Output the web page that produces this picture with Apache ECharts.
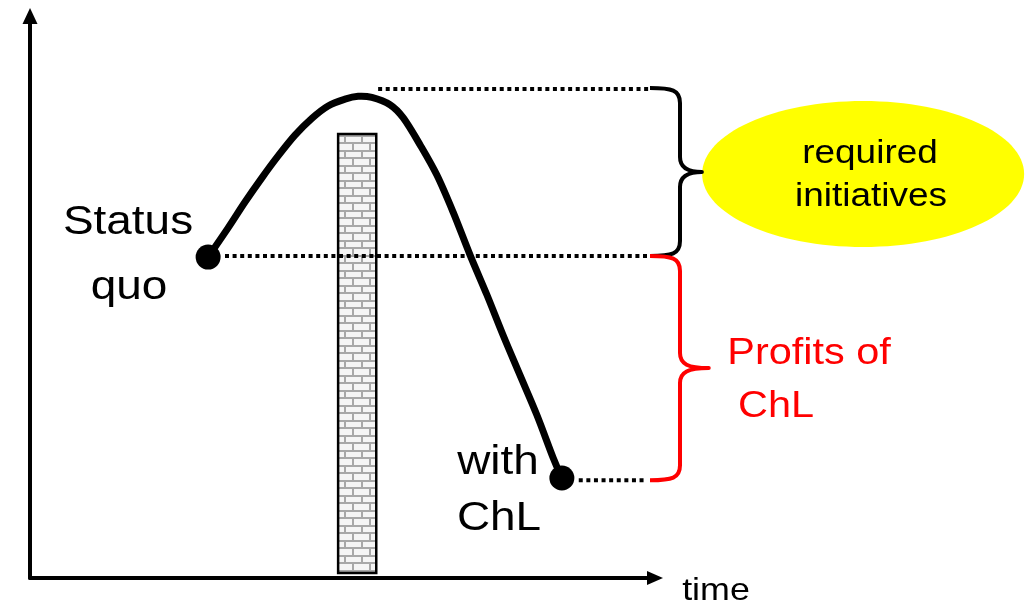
<!DOCTYPE html>
<html>
<head>
<meta charset="utf-8">
<script src="https://cdn.jsdelivr.net/npm/echarts@6/dist/echarts.min.js"></script>
<style>
html,body{margin:0;padding:0;background:#fff;}
#chart{width:1034px;height:605px;}
</style>
</head>
<body>
<div id="chart"></div>
<script>
// ---- data (abstract units: time 0..100, profit 0..100) ----
const curveTime   = [28.5, 31.7, 34.4, 37.1, 39.7, 42.4, 45.1, 47.7, 50.4, 52.5, 54.7, 57.6, 59.7, 62.4, 65.1, 67.7, 70.4, 73.1, 75.7, 78.4, 81.1, 83.7, 85.1];
const curveProfit = [57.1, 62.3, 66.9, 71.2, 75.1, 78.8, 81.8, 84.0, 85.2, 85.7, 85.5, 84.2, 81.9, 77.1, 71.7, 65.1, 57.5, 50.4, 43.2, 36.1, 29.0, 21.4, 17.8];
const pointNames  = ['Status quo', 'with ChL'];
const pointTime   = [28.5, 85.1];
const pointProfit = [57.1, 17.8];
// brick wall: [timeStart, timeEnd, profitBottom, profitTop]
const wallBlock   = [49.3, 55.4, 0.9, 79.0];
// dotted reference levels
const guideStart  = [55.7, 31.2, 87.8];
const guideEnd    = [99.2, 99.2, 98.4];
const guideLevel  = [87.0, 57.3, 17.4];
// braces
const braceTop    = [87.2, 57.3];
const braceBottom = [57.3, 17.4];
const braceNames  = ['required initiatives', 'Profits of ChL'];
// ellipse centre
const bubbleCenter = [133.3, 71.9];

const FONT = '"Liberation Sans", Arial, sans-serif';
const braceColors = ['#000000', '#ff0000'];
const braceStem = [104, 104];
const braceTip  = [107.5, 108.6];

function brickPattern(){
  const c = document.createElement('canvas');
  c.width = 17; c.height = 15;
  const g = c.getContext('2d');
  g.fillStyle = '#f5f5f5'; g.fillRect(0,0,17,15);
  g.fillStyle = '#a8a8a8';
  g.fillRect(0,0,17,2);
  g.fillRect(0,7,17,2);
  g.fillRect(4,0,2,7);
  g.fillRect(12,9,2,6);
  return c;
}
const bricks = brickPattern();

const chart = echarts.init(document.getElementById('chart'), null, {renderer:'canvas'});

const hiddenAxisBase = {
  type:'value', min:0, max:100,
  axisTick:{show:false}, axisLabel:{show:false}, splitLine:{show:false},
  axisLine:{show:true, onZero:false, symbol:['none','triangle'], lineStyle:{color:'#000', width:4}}
};

const labels = [
  {t:'Status', x:128, y:223, s:41, c:'#000'},
  {t:'quo', x:129, y:288, s:41, c:'#000'},
  {t:'with', x:498, y:463, s:41, c:'#000'},
  {t:'ChL', x:499, y:519, s:41, c:'#000'},
  {t:'Profits of', x:809, y:354, s:37, c:'#ff0000'},
  {t:'ChL', x:776, y:407, s:37, c:'#ff0000'},
  {t:'required', x:870, y:154, s:33, c:'#000'},
  {t:'initiatives', x:871, y:197, s:33, c:'#000'},
  {t:'time', x:716, y:591, s:32, c:'#000'}
];

function splinePath(pts){
  let d = 'M' + pts[0][0] + ',' + pts[0][1];
  for (let i = 0; i < pts.length - 1; i++){
    const p0 = pts[Math.max(i-1,0)], p1 = pts[i], p2 = pts[i+1], p3 = pts[Math.min(i+2, pts.length-1)];
    const c1 = [p1[0] + (p2[0]-p0[0])/6, p1[1] + (p2[1]-p0[1])/6];
    const c2 = [p2[0] - (p3[0]-p1[0])/6, p2[1] - (p3[1]-p1[1])/6];
    d += ' C' + c1[0] + ',' + c1[1] + ' ' + c2[0] + ',' + c2[1] + ' ' + p2[0] + ',' + p2[1];
  }
  return d;
}

const option = {
  animation:false,
  backgroundColor:'#fff',
  grid:{left:30, right:379, top:16, bottom:27, containLabel:false},
  xAxis: Object.assign({}, hiddenAxisBase, {axisLine:Object.assign({}, hiddenAxisBase.axisLine, {symbolSize:[14,16]})}),
  yAxis: Object.assign({}, hiddenAxisBase, {axisLine:Object.assign({}, hiddenAxisBase.axisLine, {symbolSize:[15,16]})}),
  series:[
    {
      type:'custom', clip:false, z:1,
      data:[wallBlock],
      renderItem:function(params, api){
        const p0 = api.coord([api.value(0), api.value(3)]);
        const p1 = api.coord([api.value(1), api.value(2)]);
        return {type:'rect', shape:{x:p0[0], y:p0[1], width:p1[0]-p0[0], height:p1[1]-p0[1]},
          style:{fill:{image:bricks, repeat:'repeat'}, stroke:'#000', lineWidth:2.5}};
      }
    },
    {
      type:'custom', clip:false, z:1,
      data:[bubbleCenter],
      renderItem:function(params, api){
        const p = api.coord([api.value(0), api.value(1)]);
        return {type:'ellipse', shape:{cx:p[0], cy:p[1], rx:161, ry:73}, style:{fill:'#ffff00', stroke:'none'}};
      }
    },
    {
      type:'custom', clip:false, z:3,
      data:guideLevel.map((v,i)=>[guideStart[i], guideEnd[i], v]),
      renderItem:function(params, api){
        const a = api.coord([api.value(0), api.value(2)]);
        const b = api.coord([api.value(1), api.value(2)]);
        return {type:'line', shape:{x1:a[0], y1:a[1], x2:b[0], y2:b[1]},
          style:{stroke:'#000', lineWidth:4, lineDash:[4,3.6], lineCap:'butt'}};
      }
    },
    {
      type:'custom', clip:false, z:4,
      data:braceTop.map((v,i)=>[99.2, v, braceBottom[i], braceStem[i], braceTip[i], braceNames[i]]),
      renderItem:function(params, api){
        const i = params.dataIndex;
        const pT = api.coord([api.value(0), api.value(1)]);
        const pB = api.coord([api.value(0), api.value(2)]);
        const sx = api.coord([api.value(3), api.value(1)])[0];
        const tx = api.coord([api.value(4), api.value(1)])[0];
        const X0 = pT[0], Y0 = pT[1], Y1 = pB[1], ym = (Y0+Y1)/2, r = 15;
        const d = 'M'+X0+','+Y0+' C'+(X0+22)+','+Y0+' '+sx+','+(Y0+2)+' '+sx+','+(Y0+r)+
          ' L'+sx+','+(ym-r)+' C'+sx+','+(ym-4)+' '+(sx+8)+','+ym+' '+tx+','+ym+
          ' C'+(sx+8)+','+ym+' '+sx+','+(ym+4)+' '+sx+','+(ym+r)+
          ' L'+sx+','+(Y1-r)+' C'+sx+','+(Y1-2)+' '+(X0+22)+','+Y1+' '+X0+','+Y1;
        return {type:'path', shape:{pathData:d}, style:{fill:'none', stroke:braceColors[i], lineWidth:4, lineJoin:'round'}};
      }
    },
    {
      type:'custom', clip:false, z:5,
      data:curveTime.map((t,i)=>[t, curveProfit[i]]),
      renderItem:function(params, api){
        if (params.dataIndex !== 0) return null;
        const pts = curveTime.map((t,i)=>api.coord([t, curveProfit[i]]));
        return {type:'path', shape:{pathData:splinePath(pts)},
          style:{fill:'none', stroke:'#000', lineWidth:7, lineCap:'round', lineJoin:'round'}};
      }
    },
    {
      type:'scatter', z:6,
      data:pointTime.map((t,i)=>({name:pointNames[i], value:[t, pointProfit[i]]})),
      symbolSize:25, itemStyle:{color:'#000', opacity:1}
    }
  ],
  graphic:{elements: labels.map(l=>({
    type:'text', x:l.x, y:l.y, scaleX:1.12, z:10,
    style:{text:l.t, x:0, y:0, align:'center', verticalAlign:'middle', fill:l.c, font:l.s+'px '+FONT}
  }))}
};
chart.setOption(option);
</script>
</body>
</html>
